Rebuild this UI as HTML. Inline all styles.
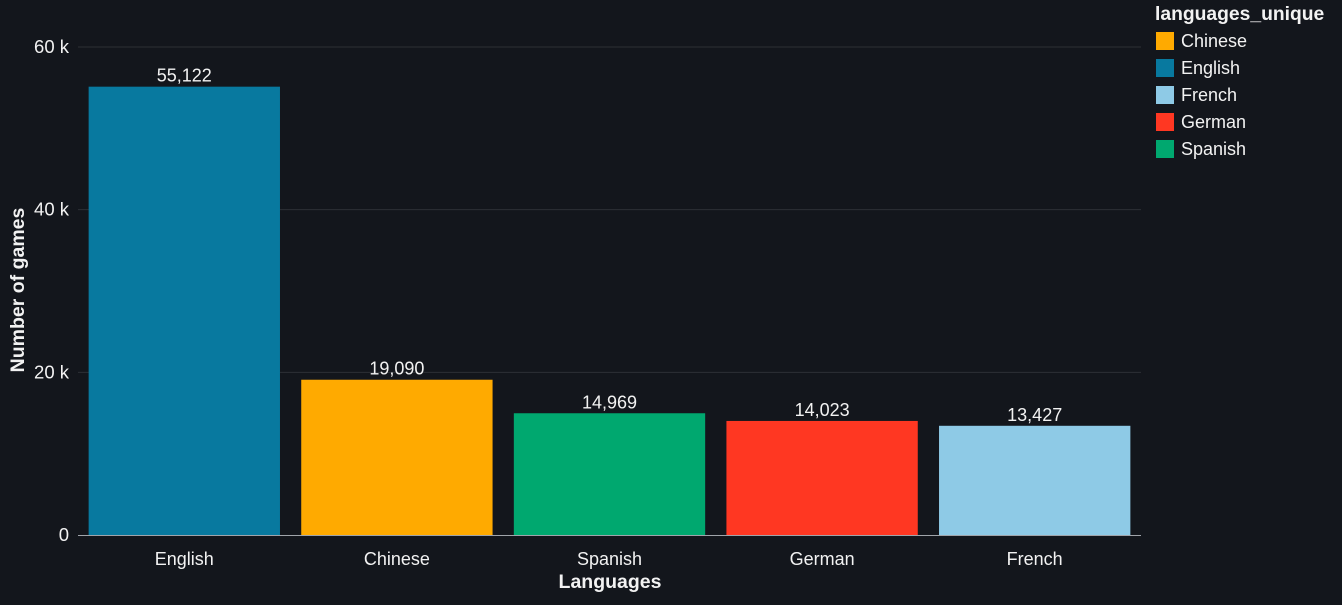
<!DOCTYPE html>
<html><head><meta charset="utf-8"><style>
body{margin:0;background:#13161c;width:1342px;height:600px;overflow:hidden;font-family:"Liberation Sans",Arial,sans-serif}
</style></head><body>
<svg id="chart" width="1342" height="600" xmlns="http://www.w3.org/2000/svg" style="font-family:'Liberation Sans',Arial,sans-serif">
<rect width="1342" height="600" fill="#13161c"/>
<g id="grid"></g><g id="bars"></g><g id="xt"></g>
<text x="610" y="588" fill="#f2f2f2" font-size="19.5" font-weight="bold" text-anchor="middle">Languages</text>
<text transform="translate(24,290) rotate(-90)" fill="#f2f2f2" font-size="19.5" font-weight="bold" text-anchor="middle">Number of games</text>
<text x="1155" y="20" fill="#f2f2f2" font-size="19.3" font-weight="bold">languages_unique</text>
<g id="legend"></g>
</svg>
<script>
const categories=["English","Chinese","Spanish","German","French"];
const values=[55122,19090,14969,14023,13427];
const colors=["#08799f","#ffaa00","#00a86f","#ff3722","#8ecae6"];
const yTicks=[0,20000,40000,60000];
const yTickLabels=["0","20 k","40 k","60 k"];
const legendNames=["Chinese","English","French","German","Spanish"];
const legendColors=["#ffaa00","#08799f","#8ecae6","#ff3722","#00a86f"];
const NS="http://www.w3.org/2000/svg";
const x0=78,x1=1141,yB=535,yT=47,yMax=60000;
const y=v=>yB-(yB-yT)*v/yMax;
const band=(x1-x0)/categories.length;
function mk(t,a,p,txt){const e=document.createElementNS(NS,t);for(const k in a)e.setAttribute(k,a[k]);if(txt!==undefined)e.textContent=txt;p.appendChild(e);return e;}
const g=document.getElementById('grid');
yTicks.forEach((v,i)=>{
 if(v>0){const l=mk('line',{x1:x0,x2:x1,y1:y(v),y2:y(v),stroke:'#2d3035','stroke-width':1},g);
 
 }
 const t=mk('text',{x:69,y:y(v)+6,fill:'#f2f2f2','font-size':18.5,'text-anchor':'end'},g,yTickLabels[i]);
 
 
});
const ax=mk('line',{x1:x0,x2:x1,y1:yB+0.5,y2:yB+0.5,stroke:'#a0a4aa','stroke-width':1},g);


const b=document.getElementById('bars');
categories.forEach((c,i)=>{
 const bx=x0+band*i+band*0.05,bw=band*0.9;
 const r=mk('rect',{x:bx,y:y(values[i]),width:bw,height:yB-y(values[i]),fill:colors[i]},b);
 
 
 const t=mk('text',{x:bx+bw/2,y:y(values[i])-5,fill:'#f2f2f2','font-size':18,'text-anchor':'middle'},b,values[i].toLocaleString('en-US'));
 
 
 const xl=mk('text',{x:bx+bw/2,y:565,fill:'#f2f2f2','font-size':18,'text-anchor':'middle'},b,c);
 
 
});
const lg=document.getElementById('legend');
legendNames.forEach((n,i)=>{
 const gy=32+27*i;
 const s=mk('rect',{x:1156,y:gy,width:18,height:18,fill:legendColors[i]},lg);
 
 
 const t=mk('text',{x:1181,y:gy+15,fill:'#f2f2f2','font-size':18},lg,n);
 
 
});
</script>
</body></html>
